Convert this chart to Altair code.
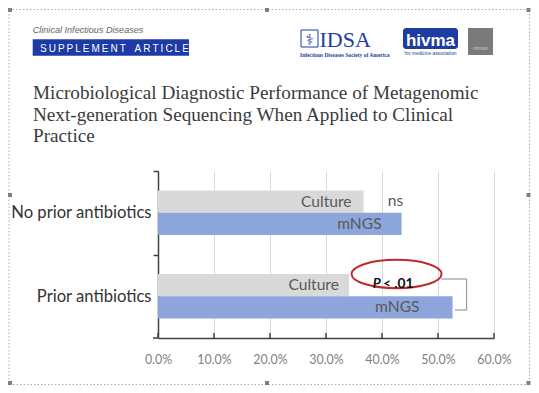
import altair as alt
import pandas as pd

# ---------------- data ----------------
categories = ["No prior antibiotics", "Prior antibiotics"]
methods = ["Culture", "mNGS"]
culture_pct = [36.7, 34.1]
mngs_pct = [43.5, 52.6]
x_ticks = [0, 10, 20, 30, 40, 50, 60]
x_tick_labels = ["0.0%", "10.0%", "20.0%", "30.0%", "40.0%", "50.0%", "60.0%"]
title_lines = [
    "Microbiological Diagnostic Performance of Metagenomic",
    "Next-generation Sequencing When Applied to Clinical",
    "Practice",
]
journal = "Clinical Infectious Diseases"
article_type = "SUPPLEMENT ARTICLE"
ns_text = "ns"
p_italic = "P"
p_rest = "< .01"

# ---------------- styles ----------------
W, H = 336, 167
OX, OY = 158, 171          # page position of the plot origin
SVG_W, SVG_H = 523, 377    # keeps the page free of scrollbars
FONT = "Lato, sans-serif"
SANS = "Liberation Sans, Arial, sans-serif"
SERIF = "Liberation Serif, serif"
AX = "#404040"
BLUE_BAR = "#8EA5DC"
GRAY_BAR = "#D9D9D9"
LOGO_BLUE = "#1E3DA3"


def px(x):
    return x - OX


def py(y):
    return y - OY


rows = []
for i, c in enumerate(categories):
    rows.append({"group": c, "method": "Culture", "value": culture_pct[i]})
    rows.append({"group": c, "method": "mNGS", "value": mngs_pct[i]})
df = pd.DataFrame(rows)
ticks_df = pd.DataFrame({"t": x_ticks})
one = pd.DataFrame({"k": [0]})

xs = alt.Scale(domain=[0, 60], nice=False, zero=True)
ys = alt.Scale(domain=categories, paddingInner=0, paddingOuter=0)
yo = alt.Scale(domain=methods, paddingInner=0, paddingOuter=0.885)

label_expr = "".join(
    f"datum.value == {v} ? '{l}' : " for v, l in zip(x_ticks, x_tick_labels)
) + "''"

x_axis = alt.Axis(
    values=x_ticks, labelExpr=label_expr, title=None, ticks=False,
    grid=True, gridColor="#D9D9D9", gridWidth=1,
    domainColor=AX, domainWidth=1.5, labelFlush=False,
    labelFont=FONT, labelFontSize=12.4, labelColor="#7F7F7F", labelPadding=15,
)
band = H / len(categories)
y_axis = alt.Axis(
    title=None, grid=False, domainColor=AX, domainWidth=1.5,
    tickColor=AX, tickWidth=1.5, tickSize=5,
    tickOffset=-band / 2, labelOffset=band / 2,
    labelFont=FONT, labelFontSize=16.6, labelColor="#333333", labelPadding=2,
)

bars = alt.Chart(df).mark_bar().encode(
    x=alt.X("value:Q", scale=xs, axis=x_axis),
    y=alt.Y("group:N", scale=ys, axis=y_axis, sort=categories),
    yOffset=alt.YOffset("method:N", scale=yo, sort=methods),
    color=alt.Color("method:N", scale=alt.Scale(domain=methods, range=[GRAY_BAR, BLUE_BAR]), legend=None),
)

tick_rules = alt.Chart(ticks_df).mark_rule(color=AX, strokeWidth=1.5).encode(
    x=alt.X("t:Q", scale=xs), y=alt.value(H - 5), y2=alt.value(H)
)
corner_tick = alt.Chart(one).mark_rule(color=AX, strokeWidth=1.5).encode(
    x=alt.value(-5), x2=alt.value(0), y=alt.value(H)
)

label_dx = {
    ("No prior antibiotics", "Culture"): -12,
    ("No prior antibiotics", "mNGS"): -20,
    ("Prior antibiotics", "Culture"): -10,
    ("Prior antibiotics", "mNGS"): -33,
}
label_layers = []
for (g, m), dx in label_dx.items():
    label_layers.append(
        alt.Chart(df).transform_filter(
            (alt.datum.group == g) & (alt.datum.method == m)
        ).mark_text(
            align="right", baseline="middle", dx=dx, font=FONT, fontSize=15.6, color="#595959"
        ).encode(
            x=alt.X("value:Q", scale=xs),
            y=alt.Y("group:N", scale=ys, sort=categories),
            yOffset=alt.YOffset("method:N", scale=yo, sort=methods),
            text="method:N",
        )
    )

ns_layer = alt.Chart(df).transform_filter(
    (alt.datum.group == categories[0]) & (alt.datum.method == "Culture")
).mark_text(
    align="center", baseline="middle", dx=32, dy=-1, font=FONT, fontSize=15.6, color="#595959", text=ns_text
).encode(
    x=alt.X("value:Q", scale=xs),
    y=alt.Y("group:N", scale=ys, sort=categories),
    yOffset=alt.YOffset("method:N", scale=yo, sort=methods),
)

# significance annotation (ellipse, P-value, bracket)
k = 0.5523
ry = 0.316
ellipse_path = (
    f"M -1 0 C -1 {-k*ry:.4f} {-k:.4f} {-ry} 0 {-ry} "
    f"C {k:.4f} {-ry} 1 {-k*ry:.4f} 1 0 "
    f"C 1 {k*ry:.4f} {k:.4f} {ry} 0 {ry} "
    f"C {-k:.4f} {ry} -1 {k*ry:.4f} -1 0 Z"
)
ellipse = alt.Chart(one).mark_point(
    shape=ellipse_path, filled=False, stroke="#C0282D", strokeWidth=2, size=90 * 90, opacity=1
).encode(x=alt.datum(42.6), y=alt.value(py(274)))

p1 = alt.Chart(one).mark_text(
    align="right", baseline="alphabetic", font=FONT, fontSize=13.8, fontStyle="italic",
    fontWeight="bold", color="#111111", text=p_italic
).encode(x=alt.datum(39.8), y=alt.value(py(287.7)))
p2 = alt.Chart(one).mark_text(
    align="left", baseline="alphabetic", dx=2, font=FONT, fontSize=13.8,
    fontWeight="bold", color="#111111", text=p_rest
).encode(x=alt.datum(39.8), y=alt.value(py(287.7)))

BR = "#9A9A9A"
br_top = alt.Chart(one).mark_rule(color=BR, strokeWidth=1.2).encode(
    x=alt.datum(50.6), x2=alt.datum(55.1), y=alt.value(py(279)))
br_v = alt.Chart(one).mark_rule(color=BR, strokeWidth=1.2).encode(
    x=alt.datum(55.1), y=alt.value(py(279)), y2=alt.value(py(310)))
br_bot = alt.Chart(one).mark_rule(color=BR, strokeWidth=1.2).encode(
    x=alt.datum(53.0), x2=alt.datum(55.1), y=alt.value(py(310)))

# ---------------- header (slide decorations) ----------------
def rect(x1, y1, x2, y2, **kw):
    return alt.Chart(one).mark_rect(**kw).encode(
        x=alt.value(px(x1)), x2=alt.value(px(x2)), y=alt.value(py(y1)), y2=alt.value(py(y2))
    )


def text(x, y, s, **kw):
    return alt.Chart(one).mark_text(baseline="alphabetic", text=s, **kw).encode(
        x=alt.value(px(x)), y=alt.value(py(y))
    )


spaced = "\u2009".join(article_type).replace("\u2009 \u2009", "\u2009\u2009 \u2009")
header = [
    text(32.7, 33.3, journal, align="left", font=SANS, fontSize=9.1, fontStyle="italic", color="#666666"),
    rect(32.7, 39.3, 189, 55.7, color="#1D3AA6"),
    text(40, 52.3, spaced, align="left", font=SANS, fontSize=10, color="#FFFFFF"),
    rect(301, 30, 318, 47, fill="#FFFFFF", stroke=LOGO_BLUE, strokeWidth=1),
    text(309.5, 45, "\u2695", align="center", font="DejaVu Sans", fontSize=15, color=LOGO_BLUE),
    text(319.5, 46.5, "IDSA", align="left", font=SERIF, fontSize=22, color=LOGO_BLUE),
    text(300, 56.5, "Infectious Diseases Society of America", align="left", font=SERIF, fontSize=5.5,
         fontWeight="bold", color=LOGO_BLUE),
    rect(403, 28, 458, 49, color=LOGO_BLUE, cornerRadius=3),
    text(430.5, 45.5, "hivma", align="center", font=SANS, fontSize=17, fontWeight="bold", color="#FFFFFF"),
    text(430.5, 54.5, "hiv medicine association", align="center", font=SANS, fontSize=4.8, color=LOGO_BLUE),
    rect(468, 28, 493, 55, color="#7A7A7A"),
    text(480.5, 50, "OXFORD", align="center", font=SERIF, fontSize=3.5, color="#DDDDDD"),
]
for i, line in enumerate(title_lines):
    header.append(text(33, 99 + i * 21.7, line, align="left", font=SERIF, fontSize=19.2, color="#3B3B3B"))

# dotted selection frame with handles
frame = [rect(9, 9.5, 529.5, 384.5, fillOpacity=0, stroke="#AAAAAA", strokeWidth=1, strokeDash=[1.5, 2])]
for hx, hy in [(10, 10), (267, 10), (528.5, 10), (10, 195), (528.5, 195), (10, 383), (267, 383), (528.5, 383)]:
    frame.append(rect(hx - 2, hy - 2, hx + 2, hy + 2, color="#7F7F7F"))

chart = alt.layer(
    bars, tick_rules, corner_tick, *label_layers, ns_layer,
    ellipse, p1, p2, br_top, br_v, br_bot, *header, *frame
).properties(
    width=W, height=H,
    autosize=alt.AutoSizeParams(type="none"),
    padding={"left": OX - 8, "top": OY - 8, "right": SVG_W - (OX - 8) - W, "bottom": SVG_H - (OY - 8) - H},
    background="#FFFFFF",
).configure_view(stroke="transparent")

chart.save("out.html", embed_options={"renderer": "svg", "actions": False})
